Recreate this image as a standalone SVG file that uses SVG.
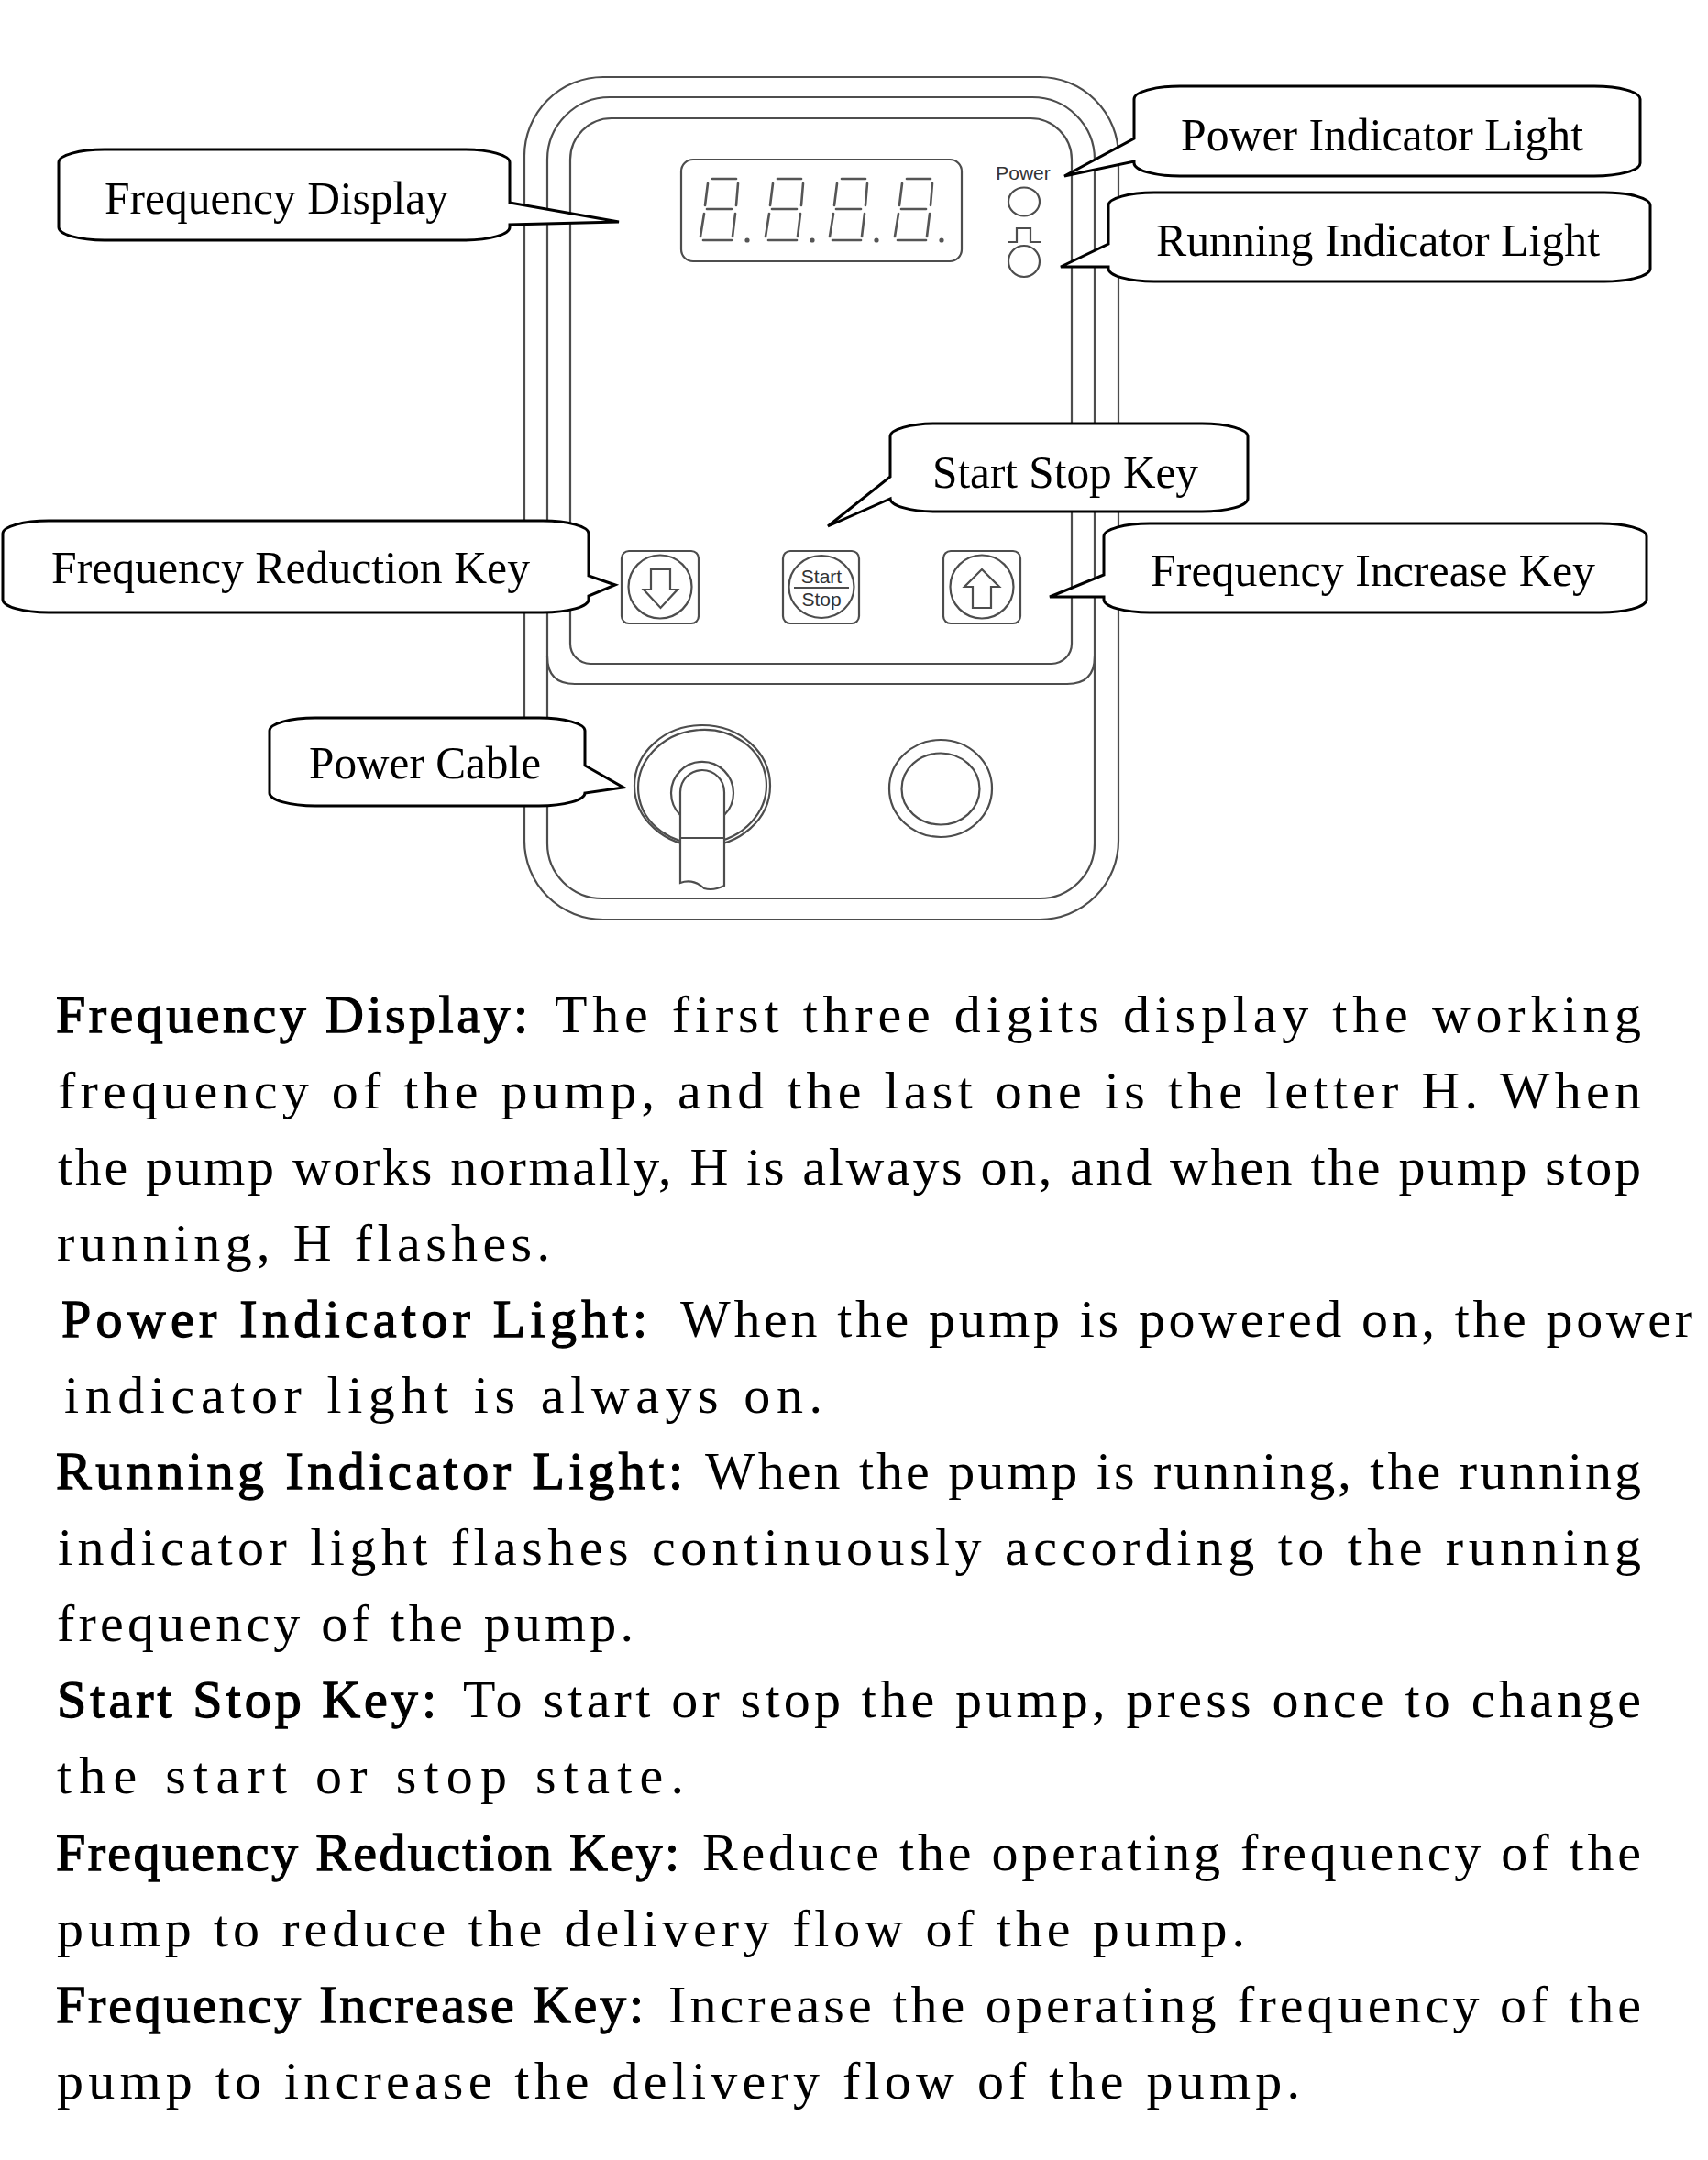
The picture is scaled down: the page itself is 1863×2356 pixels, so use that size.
<svg xmlns="http://www.w3.org/2000/svg" width="1863" height="2356" viewBox="0 0 1863 2356">
<style>
.dev{fill:none;stroke:#4d4d4d;stroke-width:2.2}
.devw{fill:#fff;stroke:#4d4d4d;stroke-width:2.2}
.seg{stroke:#555;stroke-width:2.6;stroke-linecap:round;fill:none}
.dp{fill:#555}
.small{font-family:"Liberation Sans",Arial,sans-serif;font-size:21px;fill:#333}
.bub{fill:#fff;stroke:#000;stroke-width:3;stroke-linejoin:miter}
.lbl{font-family:"Liberation Serif","Times New Roman",serif;font-size:50px;fill:#000}
.body{font-family:"Liberation Serif","Times New Roman",serif;font-size:58px;fill:#000}
.b{stroke:#000;stroke-width:1.3}
</style>
<defs>
<g id="digit">
<line class="seg" x1="15" y1="195" x2="41" y2="195"/>
<line class="seg" x1="43" y1="200" x2="41" y2="224"/>
<line class="seg" x1="40" y1="233" x2="37" y2="258"/>
<line class="seg" x1="5" y1="262" x2="36" y2="262"/>
<line class="seg" x1="6" y1="233" x2="2" y2="258"/>
<line class="seg" x1="10" y1="200" x2="7" y2="224"/>
<line class="seg" x1="9" y1="228" x2="36" y2="228"/>
<circle class="dp" cx="53" cy="262" r="2.6"/>
</g>
</defs>
<rect width="1863" height="2356" fill="#fff"/>

<g id="device">
<rect class="dev" x="572" y="84" width="648" height="919" rx="86" ry="86"/>
<path class="dev" d="M665,106 H1126 A68,68 0 0 1 1194,174 V920 A60,60 0 0 1 1134,980 H657 A60,60 0 0 1 597,920 V174 A68,68 0 0 1 665,106 Z"/>
<path class="dev" d="M597,716 Q597,746 627,746 H1164 Q1194,746 1194,716"/>
<path class="dev" d="M667,129 H1124 A45,45 0 0 1 1169,174 V702 A22,22 0 0 1 1147,724 H644 A22,22 0 0 1 622,702 V174 A45,45 0 0 1 667,129 Z"/>
</g>

<g id="display">
<rect class="dev" x="743" y="174" width="306" height="111" rx="13" ry="13"/>
<use href="#digit" x="762"/>
<use href="#digit" x="833"/>
<use href="#digit" x="903"/>
<use href="#digit" x="974"/>
</g>

<g id="indicators">
<text class="small" x="1116" y="196" text-anchor="middle">Power</text>
<ellipse class="dev" cx="1117" cy="220" rx="17" ry="15.5"/>
<path class="dev" d="M1100,264 H1109 V249 H1124 V264 H1135"/>
<ellipse class="dev" cx="1117" cy="285" rx="17" ry="17"/>
</g>

<g id="keys">
<rect class="dev" x="678" y="601" width="84" height="79" rx="8"/>
<circle class="dev" cx="720" cy="640" r="34.5"/>
<path class="dev" d="M710,621 H731 V643 H739 L720.5,663 L702,643 H710 Z"/>
<rect class="dev" x="854" y="601" width="83" height="79" rx="8"/>
<ellipse class="dev" cx="896" cy="640" rx="35.5" ry="34"/>
<text class="small" x="896" y="636" text-anchor="middle">Start</text>
<line class="dev" x1="866" y1="641" x2="926" y2="641"/>
<text class="small" x="896" y="661" text-anchor="middle">Stop</text>
<rect class="dev" x="1029" y="601" width="84" height="79" rx="8"/>
<circle class="dev" cx="1071" cy="640" r="34.5"/>
<path class="dev" d="M1071,621 L1090,640 H1081 V663 H1061 V640 H1052 Z"/>
</g>

<g id="connector-socket">
<ellipse class="dev" cx="766" cy="857" rx="74" ry="66"/>
<ellipse class="dev" cx="766" cy="858" rx="70" ry="62" transform="rotate(-6 766 858)"/>
<path class="dev" d="M742,889 A34,34 0 1 1 790,889"/>
<path class="devw" d="M742,963 V864 A24,24 0 0 1 790,864 V966 Q778,972 768,969 Q756,958 742,963 Z"/>
<line class="dev" x1="742" y1="914" x2="790" y2="914"/>
</g>

<g id="round-button">
<ellipse class="dev" cx="1026" cy="860" rx="56" ry="53"/>
<ellipse class="dev" cx="1026" cy="860.5" rx="42.5" ry="39"/>
</g>

<g id="callout-frequency-display">
<path class="bub" d="M114,163 H506 A50,14 0 0 1 556,177 V221 L675,242 L556,245 V248 A50,14 0 0 1 506,262 H114 A50,14 0 0 1 64,248 V177 A50,14 0 0 1 114,163 Z"/>
<text class="lbl" x="114" y="233" textLength="375" lengthAdjust="spacingAndGlyphs">Frequency Display</text>
</g>

<g id="callout-frequency-reduction">
<path class="bub" d="M53,568 H592 A50,14 0 0 1 642,582 V628 L671,638 L642,650 V654 A50,14 0 0 1 592,668 H53 A50,14 0 0 1 3,654 V582 A50,14 0 0 1 53,568 Z"/>
<text class="lbl" x="56" y="636" textLength="522" lengthAdjust="spacingAndGlyphs">Frequency Reduction Key</text>
</g>

<g id="callout-power-cable">
<path class="bub" d="M344,783 H588 A50,14 0 0 1 638,797 V835 L680,859 L638,865 V865 A50,14 0 0 1 588,879 H344 A50,14 0 0 1 294,865 V797 A50,14 0 0 1 344,783 Z"/>
<text class="lbl" x="337" y="849" textLength="253" lengthAdjust="spacingAndGlyphs">Power Cable</text>
</g>

<g id="callout-power-indicator">
<path class="bub" d="M1287,94 H1739 A50,14 0 0 1 1789,108 V178 A50,14 0 0 1 1739,192 H1287 A50,14 0 0 1 1237,178 V176 L1161,192 L1237,151 V108 A50,14 0 0 1 1287,94 Z"/>
<text class="lbl" x="1288" y="164" textLength="439" lengthAdjust="spacingAndGlyphs">Power Indicator Light</text>
</g>

<g id="callout-running-indicator">
<path class="bub" d="M1259,210 H1750 A50,14 0 0 1 1800,224 V293 A50,14 0 0 1 1750,307 H1259 A50,14 0 0 1 1209,293 V291 L1157,291 L1209,266 V224 A50,14 0 0 1 1259,210 Z"/>
<text class="lbl" x="1261" y="279" textLength="484" lengthAdjust="spacingAndGlyphs">Running Indicator Light</text>
</g>

<g id="callout-start-stop">
<path class="bub" d="M1021,462 H1311 A50,14 0 0 1 1361,476 V544 A50,14 0 0 1 1311,558 H1021 A50,14 0 0 1 971,544 L903,574 L971,520 V476 A50,14 0 0 1 1021,462 Z"/>
<text class="lbl" x="1017" y="532" textLength="290" lengthAdjust="spacingAndGlyphs">Start Stop Key</text>
</g>

<g id="callout-frequency-increase">
<path class="bub" d="M1254,571 H1746 A50,14 0 0 1 1796,585 V654 A50,14 0 0 1 1746,668 H1254 A50,14 0 0 1 1204,654 V651 L1145,651 L1204,627 V585 A50,14 0 0 1 1254,571 Z"/>
<text class="lbl" x="1255" y="639" textLength="485" lengthAdjust="spacingAndGlyphs">Frequency Increase Key</text>
</g>

<g id="description">
<text class="body b" x="61" y="1126" textLength="515" lengthAdjust="spacing">Frequency Display:</text>
<text class="body" x="605" y="1126" textLength="1185" lengthAdjust="spacing">The first three digits display the working</text>
<text class="body" x="63" y="1209" textLength="1727" lengthAdjust="spacing">frequency of the pump, and the last one is the letter H. When</text>
<text class="body" x="63" y="1292" textLength="1727" lengthAdjust="spacing">the pump works normally, H is always on, and when the pump stop</text>
<text class="body" x="62" y="1375" textLength="538" lengthAdjust="spacing">running, H flashes.</text>

<text class="body b" x="67" y="1458" textLength="639" lengthAdjust="spacing">Power Indicator Light:</text>
<text class="body" x="742" y="1458" textLength="1104" lengthAdjust="spacing">When the pump is powered on, the power</text>
<text class="body" x="70" y="1541" textLength="827" lengthAdjust="spacing">indicator light is always on.</text>

<text class="body b" x="61" y="1624" textLength="684" lengthAdjust="spacing">Running Indicator Light:</text>
<text class="body" x="769" y="1624" textLength="1021" lengthAdjust="spacing">When the pump is running, the running</text>
<text class="body" x="63" y="1707" textLength="1727" lengthAdjust="spacing">indicator light flashes continuously according to the running</text>
<text class="body" x="62" y="1790" textLength="629" lengthAdjust="spacing">frequency of the pump.</text>

<text class="body b" x="62" y="1873" textLength="414" lengthAdjust="spacing">Start Stop Key:</text>
<text class="body" x="505" y="1873" textLength="1285" lengthAdjust="spacing">To start or stop the pump, press once to change</text>
<text class="body" x="62" y="1956" textLength="684" lengthAdjust="spacing">the start or stop state.</text>

<text class="body b" x="61" y="2040" textLength="680" lengthAdjust="spacing">Frequency Reduction Key:</text>
<text class="body" x="766" y="2040" textLength="1024" lengthAdjust="spacing">Reduce the operating frequency of the</text>
<text class="body" x="62" y="2123" textLength="1296" lengthAdjust="spacing">pump to reduce the delivery flow of the pump.</text>

<text class="body b" x="61" y="2206" textLength="641" lengthAdjust="spacing">Frequency Increase Key:</text>
<text class="body" x="729" y="2206" textLength="1061" lengthAdjust="spacing">Increase the operating frequency of the</text>
<text class="body" x="62" y="2289" textLength="1356" lengthAdjust="spacing">pump to increase the delivery flow of the pump.</text>
</g>
</svg>
